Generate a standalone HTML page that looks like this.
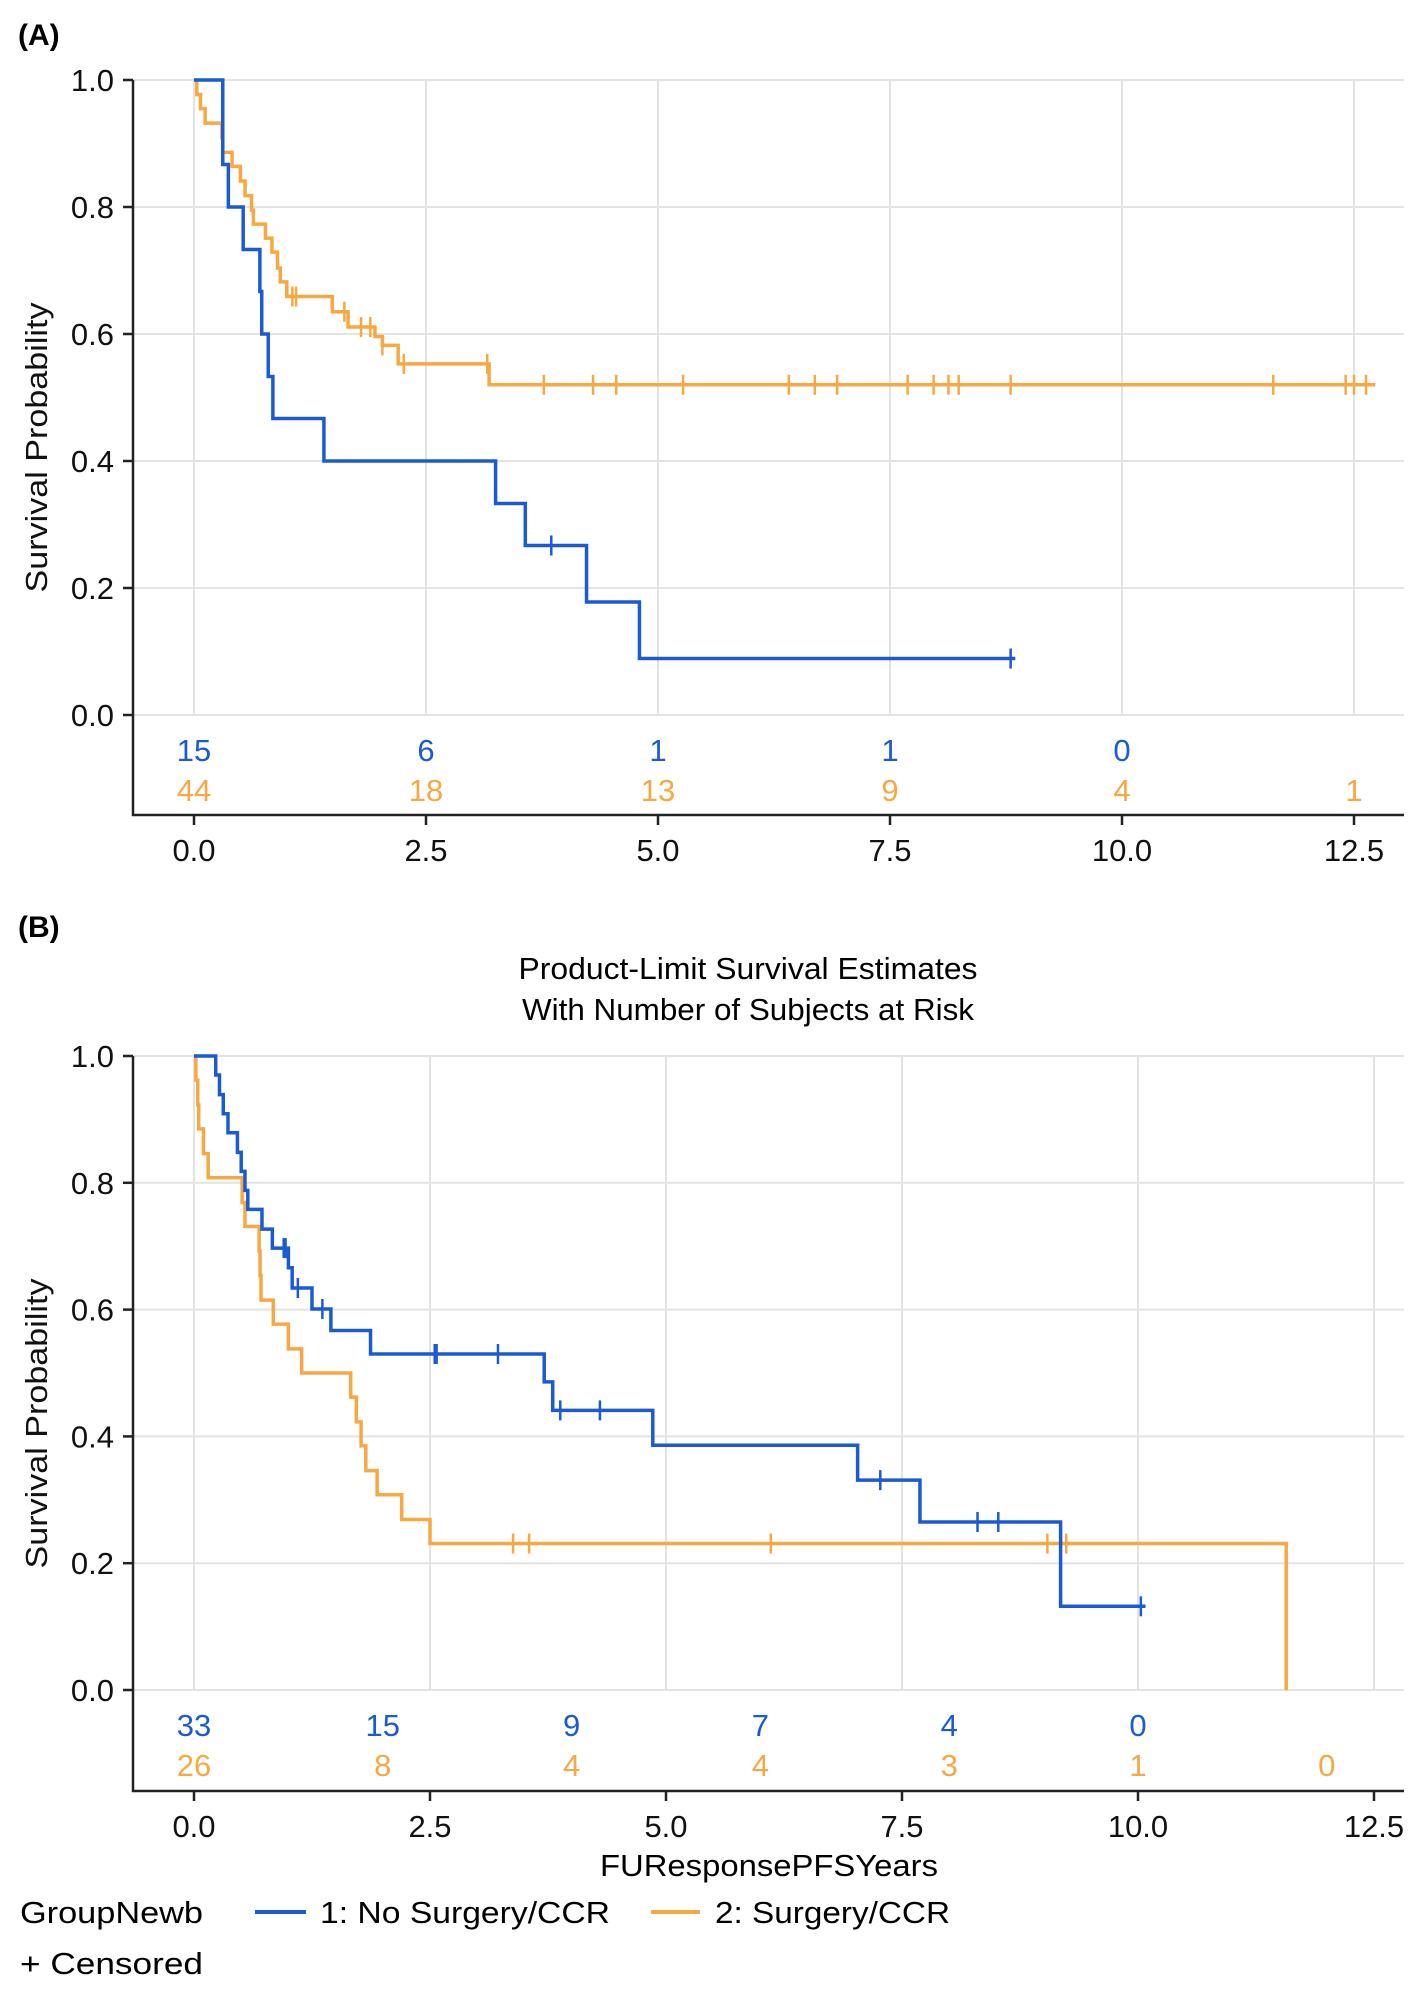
<!DOCTYPE html>
<html><head><meta charset="utf-8"><style>
html,body{margin:0;padding:0;background:#fff;}
svg{display:block;font-family:"Liberation Sans",sans-serif;}
</style></head><body>
<svg id="fig" width="1426" height="1995" viewBox="0 0 1426 1995" xmlns="http://www.w3.org/2000/svg">
<text x="18" y="45" font-size="30" font-weight="bold">(A)</text>
<text x="18" y="937" font-size="30" font-weight="bold">(B)</text>
<text x="748" y="979" font-size="31" text-anchor="middle" textLength="459" lengthAdjust="spacingAndGlyphs">Product-Limit Survival Estimates</text>
<text x="748" y="1020" font-size="31" text-anchor="middle" textLength="452" lengthAdjust="spacingAndGlyphs">With Number of Subjects at Risk</text>
<text x="769" y="1876" font-size="31" text-anchor="middle" textLength="338" lengthAdjust="spacingAndGlyphs">FUResponsePFSYears</text>
<g id="legend">
<text x="20" y="1923" font-size="31" textLength="183" lengthAdjust="spacingAndGlyphs">GroupNewb</text>
<line x1="255" y1="1912" x2="306" y2="1912" stroke="#1a5bd4" stroke-width="4"/>
<text x="320" y="1923" font-size="31" textLength="290" lengthAdjust="spacingAndGlyphs">1: No Surgery/CCR</text>
<line x1="651" y1="1912" x2="700" y2="1912" stroke="#f7a843" stroke-width="4"/>
<text x="715" y="1923" font-size="31" textLength="235" lengthAdjust="spacingAndGlyphs">2: Surgery/CCR</text>
<text x="20" y="1974" font-size="31" textLength="183" lengthAdjust="spacingAndGlyphs">+ Censored</text>
</g>
</svg>
<script>
// ---- Panel A data ----
const aBlueTimes = [0.31, 0.37, 0.53, 0.71, 0.73, 0.80, 0.85, 1.40, 3.25, 3.57, 4.23, 4.80];
const aBlueSurv  = [0.867, 0.800, 0.733, 0.667, 0.600, 0.533, 0.467, 0.400, 0.333, 0.267, 0.178, 0.089];
const aBlueCens  = [3.85, 8.80];
const aBlueEnd = 8.85;
const aOrangeTimes = [0.03, 0.07, 0.12, 0.30, 0.31, 0.41, 0.50, 0.55, 0.62, 0.64, 0.77, 0.84, 0.90, 0.93, 1.00, 1.49, 1.66, 1.95, 2.03, 2.20, 3.18];
const aOrangeSurv  = [0.977, 0.955, 0.932, 0.909, 0.886, 0.864, 0.841, 0.818, 0.795, 0.773, 0.751, 0.729, 0.704, 0.682, 0.659, 0.635, 0.611, 0.596, 0.582, 0.553, 0.520];
const aOrangeCens  = [1.06, 1.10, 1.62, 1.80, 1.90, 2.03, 2.26, 3.16, 3.77, 4.30, 4.55, 5.27, 6.41, 6.69, 6.93, 7.69, 7.97, 8.13, 8.24, 8.80, 11.63, 12.41, 12.50, 12.63];
const aOrangeEnd = 12.73;
const aRiskTimes = [0, 2.5, 5, 7.5, 10, 12.5];
const aRiskBlue = ["15", "6", "1", "1", "0", ""];
const aRiskOrange = ["44", "18", "13", "9", "4", "1"];
// ---- Panel B data ----
const bBlueTimes = [0.23, 0.27, 0.31, 0.36, 0.46, 0.50, 0.54, 0.57, 0.72, 0.83, 1.00, 1.04, 1.25, 1.45, 1.87, 3.71, 3.80, 4.86, 7.03, 7.69, 9.18];
const bBlueSurv  = [0.970, 0.939, 0.909, 0.879, 0.848, 0.818, 0.788, 0.758, 0.727, 0.697, 0.666, 0.634, 0.601, 0.567, 0.530, 0.486, 0.441, 0.386, 0.331, 0.265, 0.132];
const bBlueCens  = [0.95, 0.97, 1.10, 1.36, 2.55, 2.57, 3.22, 3.88, 4.30, 7.27, 8.30, 8.52, 10.03];
const bBlueEnd = 10.08;
const bOrangeTimes = [0.02, 0.04, 0.05, 0.10, 0.15, 0.51, 0.54, 0.69, 0.70, 0.71, 0.84, 1.00, 1.14, 1.66, 1.72, 1.77, 1.82, 1.94, 2.20, 2.50, 11.57];
const bOrangeSurv  = [0.962, 0.923, 0.885, 0.846, 0.808, 0.769, 0.731, 0.692, 0.654, 0.615, 0.577, 0.538, 0.500, 0.462, 0.423, 0.385, 0.346, 0.308, 0.269, 0.231, 0.0];
const bOrangeCens  = [3.38, 3.55, 6.11, 9.04, 9.24];
const bOrangeEnd = 11.57;
const bRiskTimes = [0, 2, 4, 6, 8, 10, 12];
const bRiskBlue = ["33", "15", "9", "7", "4", "0", ""];
const bRiskOrange = ["26", "8", "4", "4", "3", "1", "0"];
const xTicks = [0, 2.5, 5, 7.5, 10, 12.5];
const xTickLabels = ["0.0", "2.5", "5.0", "7.5", "10.0", "12.5"];
const yTicks = [0, 0.2, 0.4, 0.6, 0.8, 1.0];
const yTickLabels = ["0.0", "0.2", "0.4", "0.6", "0.8", "1.0"];

const NS = "http://www.w3.org/2000/svg";
const svg = document.getElementById("fig");
const BLUE = "#1a5bd4", ORANGE = "#f7a843";
const FS = 31;
function mk(tag, attrs, parent) {
  const e = document.createElementNS(NS, tag);
  for (const k in attrs) e.setAttribute(k, attrs[k]);
  (parent || svg).appendChild(e);
  return e;
}
function panel(cfg) {
  const g = mk("g", {});
  
  
  const xs = t => cfg.x0 + t * cfg.pxPerYear;
  const ys = v => cfg.yBottom - v * (cfg.yBottom - cfg.yTop);
  xTicks.forEach((t) => {
    const l = mk("line", {x1: xs(t), x2: xs(t), y1: cfg.yTop, y2: cfg.yBottom, stroke: "#e3e3e3", "stroke-width": 2}, g);
    
    
  });
  yTicks.forEach((v) => {
    const l = mk("line", {x1: cfg.axisX, x2: cfg.right, y1: ys(v), y2: ys(v), stroke: "#e3e3e3", "stroke-width": 2}, g);
    
    
  });
  const ax = mk("path", {d: `M${cfg.axisX},${cfg.yTop} V${cfg.axisY} H${cfg.right}`, fill: "none", stroke: "#222", "stroke-width": 2.5}, g);
  
  
  yTicks.forEach((v, i) => {
    const tk = mk("line", {x1: cfg.axisX - 10, x2: cfg.axisX, y1: ys(v), y2: ys(v), stroke: "#222", "stroke-width": 2.5}, g);
    
    
    const tx = mk("text", {x: 114, y: ys(v) + 11, "font-size": FS, "text-anchor": "end", fill: "#111"}, g);
    tx.textContent = yTickLabels[i];
    
    
  });
  xTicks.forEach((t, i) => {
    const tk = mk("line", {x1: xs(t), x2: xs(t), y1: cfg.axisY, y2: cfg.axisY + 10, stroke: "#222", "stroke-width": 2.5}, g);
    
    
    const tx = mk("text", {x: xs(t), y: cfg.axisY + 46, "font-size": FS, "text-anchor": "middle", fill: "#111"}, g);
    tx.textContent = xTickLabels[i];
    
    
  });
  const yt = mk("text", {x: 0, y: 0, "font-size": FS, "text-anchor": "middle", fill: "#111", textLength: 290, lengthAdjust: "spacingAndGlyphs",
    transform: `translate(47,${(cfg.yTop + cfg.axisY) / 2}) rotate(-90)`}, g);
  yt.textContent = "Survival Probability";
  
  
  cfg.riskTimes.forEach((t, i) => {
    const b = mk("text", {x: xs(t), y: cfg.riskY1, "font-size": FS, "text-anchor": "middle", fill: BLUE}, g);
    b.textContent = cfg.riskBlue[i];
    
    
    const o = mk("text", {x: xs(t), y: cfg.riskY2, "font-size": FS, "text-anchor": "middle", fill: ORANGE}, g);
    o.textContent = cfg.riskOrange[i];
    
    
  });
  function curve(times, surv, cens, end, color, name) {
    let d = `M${xs(0)},${ys(1)}`;
    times.forEach((t, i) => { d += ` H${xs(t)} V${ys(surv[i])}`; });
    if (end > times[times.length - 1]) d += ` H${xs(end)}`;
    const p = mk("path", {d: d, fill: "none", stroke: color, "stroke-width": 3.5, "stroke-linejoin": "miter"}, g);
    
    
    cens.forEach(c => {
      let v = 1;
      times.forEach((t, i) => { if (t <= c) v = surv[i]; });
      const m = mk("line", {x1: xs(c), x2: xs(c), y1: ys(v) - 10, y2: ys(v) + 10, stroke: color, "stroke-width": 2.5}, g);
      
      
    });
  }
  curve(cfg.oT, cfg.oS, cfg.oC, cfg.oE, ORANGE, "surgery");
  curve(cfg.bT, cfg.bS, cfg.bC, cfg.bE, BLUE, "no-surgery");
}
panel({name: "panel-a", x0: 194, pxPerYear: 92.8, yTop: 80, yBottom: 715, axisX: 133, axisY: 815, right: 1404,
  riskTimes: aRiskTimes, riskBlue: aRiskBlue, riskOrange: aRiskOrange, riskY1: 761, riskY2: 801,
  bT: aBlueTimes, bS: aBlueSurv, bC: aBlueCens, bE: aBlueEnd,
  oT: aOrangeTimes, oS: aOrangeSurv, oC: aOrangeCens, oE: aOrangeEnd});
panel({name: "panel-b", x0: 194, pxPerYear: 94.4, yTop: 1056, yBottom: 1690, axisX: 133, axisY: 1791, right: 1404,
  riskTimes: bRiskTimes, riskBlue: bRiskBlue, riskOrange: bRiskOrange, riskY1: 1736, riskY2: 1776,
  bT: bBlueTimes, bS: bBlueSurv, bC: bBlueCens, bE: bBlueEnd,
  oT: bOrangeTimes, oS: bOrangeSurv, oC: bOrangeCens, oE: bOrangeEnd});
</script>
</body></html>
